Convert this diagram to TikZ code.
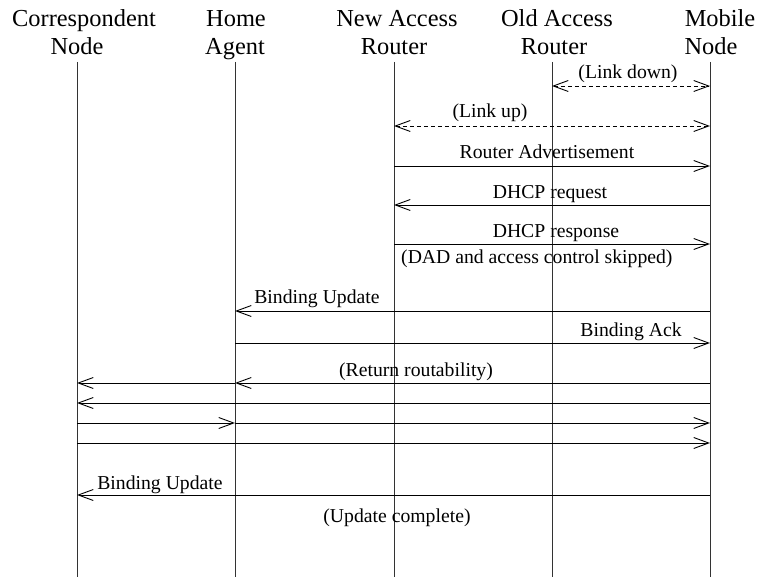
\documentclass[tikz,border=0pt]{standalone}
\usepackage{fontspec}
\setmainfont{Liberation Serif}
\usetikzlibrary{arrows.meta}

\tikzset{
  head/.style={font=\fontsize{24.4}{28}\selectfont, inner sep=0pt, anchor=base},
  lbl/.style={font=\fontsize{19.7}{23}\selectfont, inner sep=0pt, anchor=base},
  life/.style={draw=black!80, line width=0.9pt},
  msg/.style={draw=black, line width=0.9pt, -{Straight Barb[length=15pt,width=11pt,line width=0.9pt]}},
  plain/.style={draw=black, line width=0.9pt},
  both/.style={msg, {Straight Barb[length=15pt,width=11pt,line width=0.9pt]}-{Straight Barb[length=15pt,width=11pt,line width=0.9pt]}, dash pattern=on 4pt off 3pt}
}

\begin{document}
\begin{tikzpicture}[x=1pt,y=-1pt]
\useasboundingbox (0,0) rectangle (758,577);

% participant headings
\node[head] (cnA) at (84,27) {Correspondent};
\node[head] (cnB) at (77,55) {Node};
\node[head] (haA) at (236,27) {Home};
\node[head] (haB) at (235,55) {Agent};
\node[head] (narA) at (397,27) {New Access};
\node[head] (narB) at (394,55) {Router};
\node[head] (oarA) at (557,27) {Old Access};
\node[head] (oarB) at (554,55) {Router};
\node[head] (mnA) at (720,27) {Mobile};
\node[head] (mnB) at (711,55) {Node};

% lifelines
\coordinate (cn) at (77,62);   \coordinate (cnE) at (77,577);
\coordinate (ha) at (235,62);  \coordinate (haE) at (235,577);
\coordinate (nar) at (394,62); \coordinate (narE) at (394,577);
\coordinate (oar) at (552,62); \coordinate (oarE) at (552,577);
\coordinate (mn) at (710,62);  \coordinate (mnE) at (710,577);
\foreach \p in {cn,ha,nar,oar,mn} \draw[life] (\p) -- (\p E);

% message rows
\coordinate (r1) at (0,86);
\coordinate (r2) at (0,126);
\coordinate (r3) at (0,166);
\coordinate (r4) at (0,205);
\coordinate (r5) at (0,244);
\coordinate (r6) at (0,311);
\coordinate (r7) at (0,343);
\coordinate (r8) at (0,383);
\coordinate (r9) at (0,403);
\coordinate (r10) at (0,423);
\coordinate (r11) at (0,443);
\coordinate (r12) at (0,495);

% link events
\draw[both] (oar |- r1) -- (mn |- r1);
\node[lbl] (linkdown) at (628,79) {(Link down)};
\draw[both] (nar |- r2) -- (mn |- r2);
\node[lbl] (linkup) at (490,118) {(Link up)};

% address configuration
\draw[msg] (nar |- r3) -- (mn |- r3);
\node[lbl] (ra) at (547,159) {Router Advertisement};
\draw[msg] (mn |- r4) -- (nar |- r4);
\node[lbl] (dreq) at (550,198.5) {DHCP request};
\draw[msg] (nar |- r5) -- (mn |- r5);
\node[lbl] (dresp) at (556,238) {DHCP response};
\node[lbl, anchor=base west] (dad) at (401,264) {(DAD and access control skipped)};

% home registration
\draw[msg] (mn |- r6) -- (ha |- r6);
\node[lbl] (bu1) at (317,304) {Binding Update};
\draw[msg] (ha |- r7) -- (mn |- r7);
\node[lbl] (back) at (631,337) {Binding Ack};

% return routability
\draw[msg] (mn |- r8) -- (ha |- r8);
\draw[msg] (ha |- r8) -- (cn |- r8);
\node[lbl] (rr) at (416,377) {(Return routability)};
\draw[msg] (mn |- r9) -- (cn |- r9);
\draw[msg] (cn |- r10) -- (ha |- r10);
\draw[msg] (ha |- r10) -- (mn |- r10);
\draw[msg] (cn |- r11) -- (mn |- r11);

% correspondent registration
\draw[msg] (mn |- r12) -- (cn |- r12);
\node[lbl] (bu2) at (160,489) {Binding Update};
\node[lbl] (done) at (397,522) {(Update complete)};
\end{tikzpicture}
\end{document}
